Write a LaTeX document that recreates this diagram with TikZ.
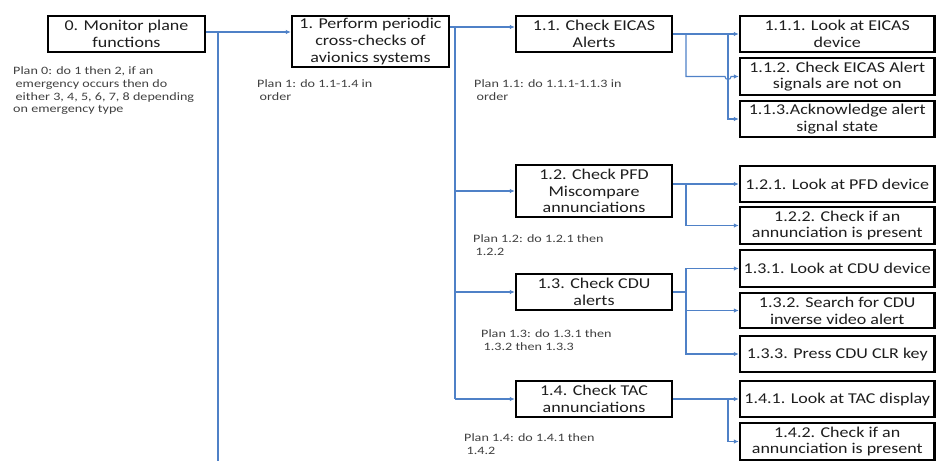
\documentclass[tikz,border=0pt]{standalone}
\usepackage{fontspec}
\setmainfont{Carlito}
\newfontfamily\boxfont[FakeStretch=1.2]{Carlito}
\newfontfamily\planfont[FakeStretch=1.25]{Carlito}
\usetikzlibrary{arrows.meta,calc}
\definecolor{linkblue}{RGB}{79,129,199}
\definecolor{boxtext}{RGB}{30,30,30}
\definecolor{plantext}{RGB}{64,64,64}
\tikzset{
  box/.style={draw=black, line width=2.4pt, fill=white, align=center, inner sep=0pt,
    text=boxtext, font=\boxfont\fontsize{15}{16.8}\selectfont},
  midbox/.style={box, minimum width=156pt},
  rbox/.style={box, minimum width=194.5pt},
  plan/.style={anchor=north west, align=left, inner sep=0pt, text=plantext,
    font=\planfont\fontsize{11.3}{12.8}\selectfont},
  conn/.style={draw=linkblue, line width=1.1pt},
  trunk/.style={draw=linkblue, line width=1.8pt},
  arr/.style={conn, -{Latex[length=5pt,width=4.5pt]}}
}
\begin{document}
\begin{tikzpicture}[x=1pt,y=-1pt]
\useasboundingbox (0,0) rectangle (936,461);
% level 0 and 1
\node[box, minimum width=157pt, minimum height=36pt] (b0) at (126.5,34) {0. Monitor plane\\functions};
\node[box, minimum width=157pt, minimum height=51pt] (b1) at (370.5,41.5) {1. Perform periodic\\cross-checks of\\avionics systems};
% level 1.x
\node[midbox, minimum height=36pt] (b11) at (594,34) {1.1. Check EICAS\\Alerts};
\node[midbox, minimum height=52pt] (b12) at (594,191) {1.2. Check PFD\\Miscompare\\annunciations};
\node[midbox, minimum height=36pt] (b13) at (594,292) {1.3. Check CDU\\alerts};
\node[midbox, minimum height=36pt] (b14) at (594,399) {1.4. Check TAC\\annunciations};
% level 1.x.y
\node[rbox, minimum height=36pt] (b111) at (837.25,34) {1.1.1. Look at EICAS\\device};
\node[rbox, minimum height=37pt] (b112) at (837.25,76.5) {1.1.2. Check EICAS Alert\\signals are not on};
\node[rbox, minimum height=36pt] (b113) at (837.25,119) {1.1.3.Acknowledge alert\\signal state};
\node[rbox, minimum height=36pt] (b121) at (837.25,184) {1.2.1. Look at PFD device};
\node[rbox, minimum height=37pt] (b122) at (837.25,225.5) {1.2.2. Check if an\\annunciation is present};
\node[rbox, minimum height=37pt] (b131) at (837.25,268.5) {1.3.1. Look at CDU device};
\node[rbox, minimum height=35pt] (b132) at (837.25,310.5) {1.3.2. Search for CDU\\inverse video alert};
\node[rbox, minimum height=36pt] (b133) at (837.25,354) {1.3.3. Press CDU CLR key};
\node[rbox, minimum height=36pt] (b141) at (837.25,399) {1.4.1. Look at TAC display};
\node[rbox, minimum height=37pt] (b142) at (837.25,441.5) {1.4.2. Check if an\\annunciation is present};
% plans
\node[plan] (p0) at (13,66.5) {Plan 0: do 1 then 2, if an\\\hspace*{2.5pt}emergency occurs then do\\\hspace*{2.5pt}either 3, 4, 5, 6, 7, 8 depending\\on emergency type};
\node[plan] (p1) at (257,79.5) {Plan 1: do 1.1-1.4 in\\\hspace*{2.5pt}order};
\node[plan] (p11) at (474,79.5) {Plan 1.1: do 1.1.1-1.1.3 in\\\hspace*{2.5pt}order};
\node[plan] (p12) at (473,234.5) {Plan 1.2: do 1.2.1 then\\\hspace*{2.5pt}1.2.2};
\node[plan] (p13) at (481,329.5) {Plan 1.3: do 1.3.1 then\\\hspace*{2.5pt}1.3.2 then 1.3.3};
\node[plan] (p14) at (464,433.5) {Plan 1.4: do 1.4.1 then\\\hspace*{2.5pt}1.4.2};
% junction coordinates
\coordinate (j0) at (218,32);
\coordinate (j0b) at (218,461);
\coordinate (j1) at (455,27);
\coordinate (ka) at (686,0);
\coordinate (kb) at (728,0);
% level 0 -> 1
\draw[arr] (b0.east |- j0) -- (j0 -| b1.west);
\draw[trunk] (j0) -- (j0b);
% level 1 -> 1.x
\draw[arr] (b1.east |- j1) -- (j1 -| b11.west);
\draw[conn] (j1) -- (j1 |- b14.west);
\draw[arr] (j1 |- b12.west) -- (b12.west);
\draw[arr] (j1 |- b13.west) -- (b13.west);
\draw[arr] (j1 |- b14.west) -- (b14.west);
% 1.1 -> 1.1.y
\draw[arr] (b11.east) -- (b111.west);
\draw[arr] (ka |- b11.east) -- (ka |- b112.west) -- ($(kb |- b112.west)+(-3,0)$) arc[start angle=180,end angle=0,radius=3] -- (b112.west);
\draw[arr] (kb |- b11.east) |- (b113.west);
% 1.2 -> 1.2.y
\draw[arr] (b12.east |- b121.west) -- (b121.west);
\draw[arr] (ka |- b121.west) |- (b122.west);
% 1.3 -> 1.3.y
\draw[conn] (b13.east) -- (ka |- b13.east);
\draw[arr] (ka |- b13.east) |- (b131.west);
\draw[arr] (ka |- b13.east) |- (b132.west);
\draw[arr] (ka |- b13.east) |- (b133.west);
% 1.4 -> 1.4.y
\draw[arr] (b14.east) -- (b141.west);
\draw[arr] (kb |- b14.east) |- (b142.west);
\end{tikzpicture}
\end{document}
